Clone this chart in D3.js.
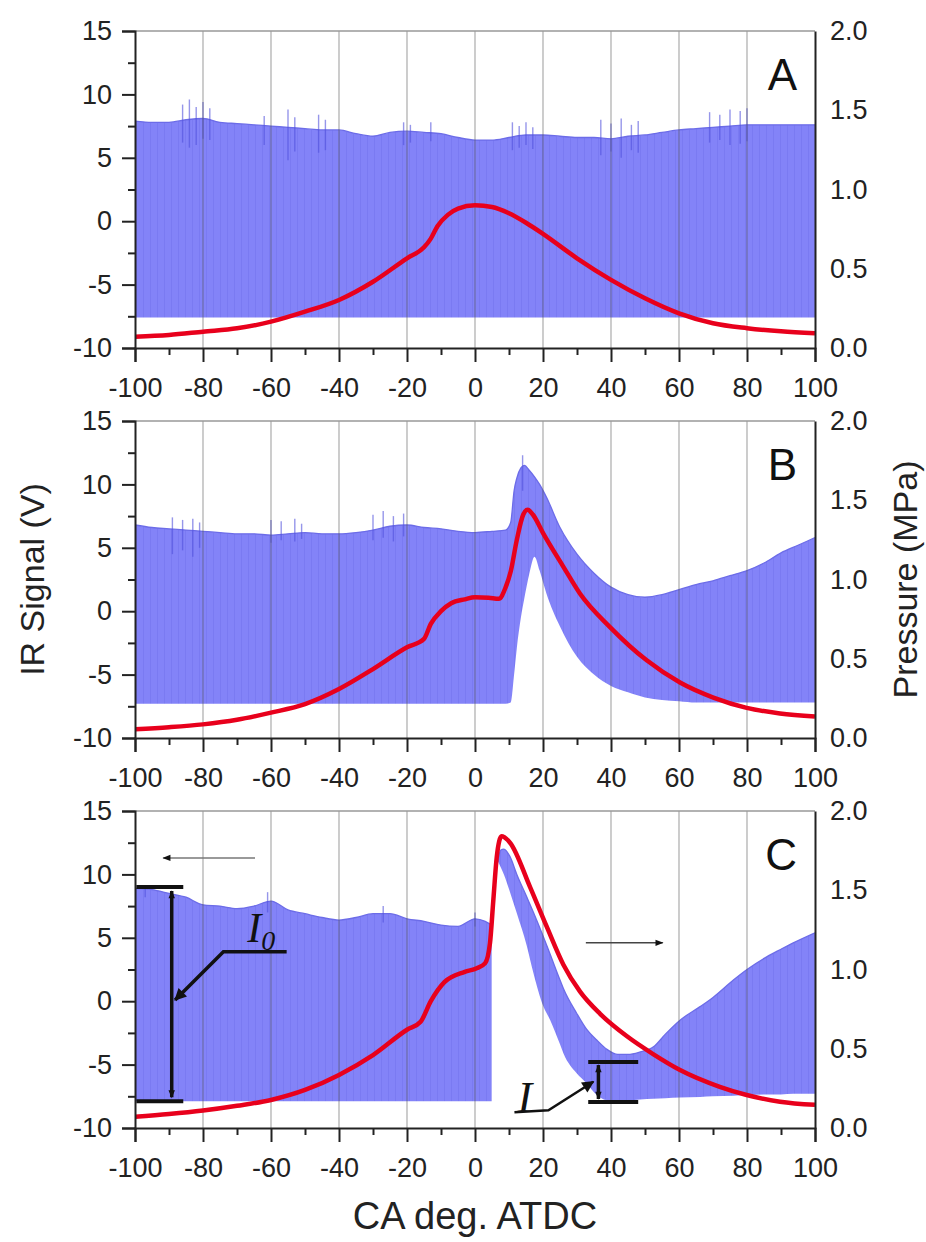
<!DOCTYPE html>
<html>
<head>
<meta charset="utf-8">
<script src="https://cdn.jsdelivr.net/npm/d3@7/dist/d3.min.js"></script>
<style>
  body { margin: 0; background: #fff; }
  text { font-family: "Liberation Sans", Arial, sans-serif; }
</style>
</head>
<body>
<div id="chart"></div>
<script>
// Tick values
const caMajor = [-100, -80, -60, -40, -20, 0, 20, 40, 60, 80, 100];
const caMinor = [-90, -70, -50, -30, -10, 10, 30, 50, 70, 90];
const irMajor = [-10, -5, 0, 5, 10, 15];
const irMinor = [-7.5, -2.5, 2.5, 7.5, 12.5];
const presTicks = [0, 0.5, 1.0, 1.5, 2.0];
const panelNames = ["A", "B", "C"];

// Panel A: pressure (MPa)
const presA_x = [-100, -90, -80, -70, -60, -50, -40, -30, -20, -15, -13, -11, -8, -5, 0, 5, 10, 15, 20, 30, 40, 50, 60, 70, 80, 90, 100];
const presA_p = [0.071, 0.082, 0.103, 0.124, 0.166, 0.229, 0.303, 0.418, 0.566, 0.635, 0.69, 0.77, 0.84, 0.88, 0.90, 0.89, 0.85, 0.79, 0.72, 0.566, 0.43, 0.314, 0.219, 0.156, 0.125, 0.105, 0.093];
// Panel A: IR signal envelope (V)
const irA_x  = [-100, -95, -90, -85, -80, -75, -70, -65, -60, -55, -50, -45, -40, -35, -30, -25, -20, -15, -10, -5, 0, 5, 10, 15, 20, 25, 30, 35, 40, 45, 50, 55, 60, 65, 70, 75, 80, 85, 90, 95, 100];
const irA_hi = [7.9, 7.8, 7.8, 8.0, 8.1, 7.8, 7.7, 7.6, 7.5, 7.4, 7.3, 7.2, 7.2, 6.9, 6.7, 7.0, 7.1, 7.0, 6.9, 6.6, 6.4, 6.4, 6.6, 6.8, 6.8, 6.7, 6.6, 6.6, 6.5, 6.7, 6.8, 7.0, 7.2, 7.3, 7.4, 7.5, 7.6, 7.6, 7.6, 7.6, 7.6];
const irA_lo = [-7.6, -7.6, -7.6, -7.6, -7.6, -7.6, -7.6, -7.6, -7.6, -7.6, -7.6, -7.6, -7.6, -7.6, -7.6, -7.6, -7.6, -7.6, -7.6, -7.6, -7.6, -7.6, -7.6, -7.6, -7.6, -7.6, -7.6, -7.6, -7.6, -7.6, -7.6, -7.6, -7.6, -7.6, -7.6, -7.6, -7.6, -7.6, -7.6, -7.6, -7.6];
const noiseA = [[-86, 9.2, 6.2], [-84, 9.6, 5.8], [-82, 9.0, 6.0], [-80, 9.4, 6.5], [-78, 8.9, 6.4], [-62, 8.3, 6.0], [-55, 8.8, 4.8], [-53, 8.2, 5.5], [-46, 8.4, 5.4], [-44, 8.0, 5.6], [-21, 7.8, 6.0], [-19, 7.6, 6.2], [-13, 7.8, 6.3], [11, 7.8, 5.6], [13, 7.5, 5.8], [15, 7.8, 6.0], [17, 7.4, 5.7], [37, 8.0, 5.2], [40, 7.7, 5.5], [43, 8.1, 5.0], [46, 7.6, 5.6], [48, 7.9, 5.4], [69, 8.6, 6.2], [72, 8.4, 6.4], [75, 8.8, 6.0], [78, 8.7, 6.1], [80, 8.9, 6.3]];

// Panel B
const presB_x = [-100, -90, -80, -70, -60, -50, -40, -30, -20, -15, -13, -10, -7, -3, 0, 4, 7, 9, 10.5, 12.3, 14.2, 15.5, 17, 20.1, 26, 30.9, 39.7, 50.5, 60.3, 70.1, 79.9, 89.7, 100];
const presB_p = [0.055, 0.068, 0.086, 0.115, 0.16, 0.214, 0.309, 0.435, 0.572, 0.625, 0.72, 0.80, 0.85, 0.875, 0.888, 0.885, 0.878, 0.95, 1.05, 1.25, 1.41, 1.44, 1.41, 1.29, 1.08, 0.91, 0.70, 0.49, 0.35, 0.255, 0.19, 0.155, 0.135];
const irB_x  = [-100, -95, -90, -85, -80, -75, -70, -65, -60, -55, -50, -45, -40, -35, -30, -25, -20, -15, -10, -5, 0, 5, 9, 10.5, 11.5, 12.3, 13.5, 14.5, 16, 17.5, 19, 21, 25, 30, 35, 40, 45, 50, 55, 60, 65, 70, 75, 80, 85, 90, 95, 100];
const irB_hi = [6.8, 6.6, 6.5, 6.4, 6.3, 6.2, 6.1, 6.1, 6.0, 6.1, 6.2, 6.1, 6.1, 6.2, 6.4, 6.7, 6.8, 6.6, 6.5, 6.3, 6.2, 6.3, 6.4, 7.0, 9.5, 10.5, 11.3, 11.5, 11.1, 10.6, 10.0, 9.0, 6.6, 4.5, 3.0, 1.9, 1.3, 1.1, 1.3, 1.7, 2.1, 2.4, 2.8, 3.2, 3.8, 4.6, 5.2, 5.8];
const irB_lo = [-7.3, -7.3, -7.3, -7.3, -7.3, -7.3, -7.3, -7.3, -7.3, -7.3, -7.3, -7.3, -7.3, -7.3, -7.3, -7.3, -7.3, -7.3, -7.3, -7.3, -7.3, -7.3, -7.3, -7.2, -5.0, -2.9, -0.5, 1.0, 3.0, 4.3, 3.2, 1.4, -1.2, -3.6, -5.0, -5.9, -6.4, -6.8, -7.0, -7.1, -7.2, -7.2, -7.2, -7.2, -7.2, -7.2, -7.2, -7.2];
const noiseB = [[-89, 7.4, 4.5], [-86, 7.2, 4.8], [-83, 7.3, 4.3], [-81, 7.0, 5.0], [-60, 7.2, 5.4], [-57, 7.1, 5.6], [-53, 7.3, 5.5], [-51, 6.9, 5.7], [-30, 7.6, 5.6], [-27, 7.9, 5.8], [-24, 7.5, 5.5], [-21, 7.7, 5.9], [14, 12.3, 9.5]];

// Panel C
const presC_x = [-100, -90, -80, -70, -60, -50, -40, -30, -20, -16, -13, -9, -3, 0.5, 3, 4.4, 5.4, 6.4, 7.8, 10.3, 16.2, 21.1, 26, 30.9, 36.8, 44.6, 52.5, 60.3, 72, 79.9, 89.7, 100];
const presC_p = [0.071, 0.088, 0.11, 0.14, 0.177, 0.24, 0.335, 0.46, 0.62, 0.67, 0.80, 0.92, 0.985, 1.008, 1.04, 1.165, 1.44, 1.71, 1.84, 1.80, 1.52, 1.27, 1.03, 0.86, 0.72, 0.58, 0.465, 0.366, 0.26, 0.208, 0.166, 0.146];
// before the jump
const irC1_x  = [-100, -95, -90, -85, -80, -75, -70, -65, -60, -55, -50, -45, -40, -35, -30, -25, -20, -15, -10, -5, 0, 3, 4.9];
const irC1_hi = [8.9, 8.8, 8.5, 8.2, 7.6, 7.5, 7.3, 7.5, 7.9, 7.2, 6.9, 6.6, 6.4, 6.6, 6.9, 6.9, 6.5, 6.3, 6.0, 5.9, 6.5, 6.3, 6.0];
const irC1_lo = [-7.9, -7.9, -7.9, -7.9, -7.9, -7.9, -7.9, -7.9, -7.9, -7.9, -7.9, -7.9, -7.9, -7.9, -7.9, -7.9, -7.9, -7.9, -7.9, -7.9, -7.9, -7.9, -7.9];
// after the jump
const irC2_x  = [6.8, 7.5, 8.5, 10.3, 12.3, 15.2, 17.2, 20.1, 22.1, 25, 26, 29.9, 32.8, 35.8, 38.8, 42, 45, 48.6, 52.5, 56, 60.3, 66.2, 70, 76, 80, 85.8, 90, 93.6, 100];
const irC2_hi = [11.0, 11.9, 12.0, 11.4, 10.0, 8.24, 7.0, 5.09, 3.7, 1.67, 1.0, -0.95, -2.2, -3.06, -3.8, -4.2, -4.2, -4.0, -3.6, -2.6, -1.5, -0.43, 0.3, 1.67, 2.5, 3.5, 4.1, 4.6, 5.4];
const irC2_lo = [11.0, 10.6, 10.0, 8.6, 6.93, 4.4, 2.2, -0.4, -1.48, -3.4, -4.11, -5.69, -6.47, -7.4, -7.8, -7.8, -7.8, -7.75, -7.7, -7.65, -7.6, -7.55, -7.5, -7.45, -7.4, -7.35, -7.35, -7.3, -7.3];
const noiseC = [[-97, 9.1, 8.2], [-61, 8.6, 7.0], [-27, 7.5, 6.2], [0, 7.0, 5.9]];

// Layout
const svgW = 926, svgH = 1242;
const plotL = 135, plotR = 815, plotH = 317, panelStep = 390, firstTop = 31;
const blue = "#8383f8", red = "#e8001c", axisCol = "#222";
const serif = "'Liberation Serif', 'Times New Roman', serif";

const svg = d3.select("#chart").append("svg")
  .attr("width", svgW)
  .attr("height", svgH);

const defs = svg.append("defs");
// faint vertical striping of the sampled signal
const pat = defs.append("pattern")
  .attr("id", "stripes")
  .attr("patternUnits", "userSpaceOnUse")
  .attr("width", 7).attr("height", 10);
pat.append("rect").attr("width", 7).attr("height", 10).attr("fill", blue);
pat.append("rect").attr("x", 3).attr("width", 1).attr("height", 10).attr("fill", "#7a7af2");

defs.append("marker")
  .attr("id", "arr")
  .attr("viewBox", "0 0 10 10")
  .attr("refX", 9).attr("refY", 5)
  .attr("markerWidth", 10).attr("markerHeight", 8)
  .attr("markerUnits", "userSpaceOnUse")
  .attr("orient", "auto-start-reverse")
  .append("path").attr("d", "M0,1 L10,5 L0,9 Z").attr("fill", "#111");

defs.append("marker")
  .attr("id", "arrBig")
  .attr("viewBox", "0 0 10 10")
  .attr("refX", 9).attr("refY", 5)
  .attr("markerWidth", 16).attr("markerHeight", 12)
  .attr("markerUnits", "userSpaceOnUse")
  .attr("orient", "auto-start-reverse")
  .append("path").attr("d", "M0,0 L10,5 L0,10 Z").attr("fill", "#111");

const x = d3.scaleLinear().domain([-100, 100]).range([plotL, plotR]);

const panels = [
  { pres: presA_x.map((d, i) => ({x: d, p: presA_p[i]})),
    ir: [irA_x.map((d, i) => ({x: d, hi: irA_hi[i], lo: irA_lo[i]}))],
    noise: noiseA },
  { pres: presB_x.map((d, i) => ({x: d, p: presB_p[i]})),
    ir: [irB_x.map((d, i) => ({x: d, hi: irB_hi[i], lo: irB_lo[i]}))],
    noise: noiseB },
  { pres: presC_x.map((d, i) => ({x: d, p: presC_p[i]})),
    ir: [irC1_x.map((d, i) => ({x: d, hi: irC1_hi[i], lo: irC1_lo[i]})),
         irC2_x.map((d, i) => ({x: d, hi: irC2_hi[i], lo: irC2_lo[i]}))],
    noise: noiseC }
];

const scales = [];

panels.forEach((pn, i) => {
  const top = firstTop + i * panelStep, bottom = top + plotH;
  const y = d3.scaleLinear().domain([-10, 15]).range([bottom, top]);
  const yP = d3.scaleLinear().domain([0, 2]).range([bottom, top]);
  scales.push({y, yP});
  const g = svg.append("g");

  defs.append("clipPath").attr("id", "clip" + i)
    .append("rect").attr("x", plotL).attr("y", top).attr("width", plotR - plotL).attr("height", plotH);
  const pg = g.append("g").attr("clip-path", `url(#clip${i})`);

  // IR signal band
  const area = d3.area().x(d => x(d.x)).y0(d => y(d.lo)).y1(d => y(d.hi)).curve(d3.curveMonotoneX);
  const topLine = d3.line().x(d => x(d.x)).y(d => y(d.hi)).curve(d3.curveMonotoneX);
  pn.ir.forEach(seg => {
    pg.append("path").datum(seg).attr("d", area).attr("fill", "url(#stripes)");
    pg.append("path").datum(seg).attr("d", topLine)
      .attr("fill", "none").attr("stroke", "#6c6ce8").attr("stroke-width", 1.3);
  });
  pg.selectAll(".noise").data(pn.noise).enter().append("line")
    .attr("x1", d => x(d[0])).attr("x2", d => x(d[0]))
    .attr("y1", d => y(d[1])).attr("y2", d => y(d[2]))
    .attr("stroke", "#5050dc").attr("stroke-opacity", 0.6).attr("stroke-width", 1.4);

  // vertical grid
  pg.selectAll(".grid").data(caMajor.slice(1, -1)).enter().append("line")
    .attr("x1", d => x(d)).attr("x2", d => x(d))
    .attr("y1", top).attr("y2", bottom)
    .attr("stroke", "#555").attr("stroke-opacity", 0.45).attr("stroke-width", 1.3);

  // pressure trace
  pg.append("path").datum(pn.pres)
    .attr("d", d3.line().x(d => x(d.x)).y(d => yP(d.p)).curve(d3.curveMonotoneX))
    .attr("fill", "none").attr("stroke", red).attr("stroke-width", 4.5)
    .attr("stroke-linejoin", "round");

  // top frame
  g.append("line").attr("x1", plotL).attr("x2", plotR).attr("y1", top).attr("y2", top)
    .attr("stroke", "#999").attr("stroke-width", 1.5);

  // axes
  const fmt = d => String(d);
  g.append("g").attr("transform", `translate(0,${bottom})`)
    .call(d3.axisBottom(x).tickValues(caMajor).tickSize(14).tickPadding(16).tickFormat(fmt));
  g.append("g").attr("transform", `translate(0,${bottom})`)
    .call(d3.axisBottom(x).tickValues(caMinor).tickSize(7).tickFormat(""))
    .select(".domain").remove();
  g.append("g").attr("transform", `translate(${plotL},0)`)
    .call(d3.axisLeft(y).tickValues(irMajor).tickSize(13).tickPadding(10).tickFormat(fmt));
  g.append("g").attr("transform", `translate(${plotL},0)`)
    .call(d3.axisLeft(y).tickValues(irMinor).tickSize(7).tickFormat(""))
    .select(".domain").remove();
  g.append("g").attr("transform", `translate(${plotR},0)`)
    .call(d3.axisRight(yP).tickValues(presTicks).tickSize(0).tickPadding(15).tickFormat(d3.format(".1f")));

  g.selectAll(".domain, .tick line").attr("stroke", axisCol).attr("stroke-width", 2);
  g.selectAll(".tick text").attr("font-size", 27).attr("fill", axisCol);

  // panel letter
  g.append("text").attr("x", plotR - 18).attr("y", top + 59)
    .attr("text-anchor", "end").attr("font-size", 44).attr("fill", "#111")
    .text(panelNames[i]);
});

// axis titles
svg.append("text")
  .attr("transform", `translate(44,${firstTop + panelStep + plotH / 2}) rotate(-90)`)
  .attr("text-anchor", "middle").attr("font-size", 34).attr("fill", axisCol)
  .text("IR Signal (V)");
svg.append("text")
  .attr("transform", `translate(917,${firstTop + panelStep + plotH / 2}) rotate(-90)`)
  .attr("text-anchor", "middle").attr("font-size", 34).attr("fill", axisCol)
  .text("Pressure (MPa)");
svg.append("text")
  .attr("x", (plotL + plotR) / 2).attr("y", 1229)
  .attr("text-anchor", "middle").attr("font-size", 38).attr("fill", axisCol)
  .text("CA deg. ATDC");

// annotations in panel C (data units)
const yC = scales[2].y;
const ann = svg.append("g").attr("fill", "none").attr("stroke", "#111");

// thin direction arrows
ann.append("line").attr("x1", x(-64.7)).attr("x2", x(-91.7)).attr("y1", yC(11.3)).attr("y2", yC(11.3))
  .attr("stroke", "#777").attr("stroke-width", 1.5).attr("marker-end", "url(#arr)");
ann.append("line").attr("x1", x(32.6)).attr("x2", x(55.2)).attr("y1", yC(4.6)).attr("y2", yC(4.6))
  .attr("stroke", "#444").attr("stroke-width", 1.5).attr("marker-end", "url(#arr)");

// I0 bracket
const i0x = -89.2, i0Top = 9.0, i0Bot = -7.9;
ann.append("line").attr("x1", x(i0x)).attr("x2", x(i0x)).attr("y1", yC(i0Top) + 4).attr("y2", yC(i0Bot) - 4)
  .attr("stroke-width", 3.5).attr("marker-start", "url(#arr)").attr("marker-end", "url(#arr)");
[i0Top, i0Bot].forEach(v => ann.append("line")
  .attr("x1", x(-99.6)).attr("x2", x(-85.8)).attr("y1", yC(v)).attr("y2", yC(v)).attr("stroke-width", 4));
ann.append("path")
  .attr("d", d3.line()([[x(-55.4), yC(3.9)], [x(-74.0), yC(3.9)], [x(-88.2), yC(0.1)]]))
  .attr("stroke-width", 3.5).attr("marker-end", "url(#arrBig)");
const i0Lab = svg.append("text").attr("x", x(-67)).attr("y", yC(4.7))
  .style("font-family", serif).style("font-style", "italic")
  .attr("font-size", 42).attr("fill", "#111");
i0Lab.append("tspan").text("I");
i0Lab.append("tspan").attr("dy", 8).attr("font-size", 28).text("0");

// I bracket
const ix = 36.3, iTop = -4.8, iBot = -7.95;
ann.append("line").attr("x1", x(ix)).attr("x2", x(ix)).attr("y1", yC(iTop) + 3).attr("y2", yC(iBot) - 3)
  .attr("stroke-width", 3.5).attr("marker-start", "url(#arr)").attr("marker-end", "url(#arr)");
[iTop, iBot].forEach(v => ann.append("line")
  .attr("x1", x(33.3)).attr("x2", x(48.0)).attr("y1", yC(v)).attr("y2", yC(v)).attr("stroke-width", 4));
ann.append("path")
  .attr("d", d3.line()([[x(11.6), yC(-8.75)], [x(21.6), yC(-8.6)], [x(34.8), yC(-6.35)]]))
  .attr("stroke-width", 2.5).attr("marker-end", "url(#arrBig)");
svg.append("text").attr("x", x(12.5)).attr("y", yC(-8.7))
  .style("font-family", serif).style("font-style", "italic")
  .attr("font-size", 44).attr("fill", "#111").text("I");
</script>
</body>
</html>
